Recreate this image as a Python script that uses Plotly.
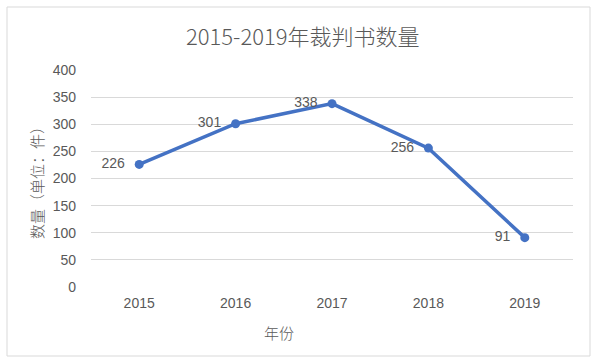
import plotly.graph_objects as go

years = ["2015", "2016", "2017", "2018", "2019"]
counts = [226, 301, 338, 256, 91]
y_ticks = [0, 50, 100, 150, 200, 250, 300, 350, 400]

FONT = "Liberation Sans, Noto Sans CJK SC"
CJK = "Noto Sans CJK SC"
GRAY = "#595959"

fig = go.Figure()
fig.add_trace(go.Scatter(
    x=years, y=counts, mode="lines+markers+text",
    text=[str(v) + "  " for v in counts], textposition="middle left",
    textfont=dict(family=FONT, size=14, color=GRAY),
    line=dict(color="#4472C4", width=3.5),
    marker=dict(color="#4472C4", size=9),
    cliponaxis=False, showlegend=False,
))

L, R, T, B = 91, 573, 70, 287
W, H = 607, 363
pw, ph = R - L, B - T

def px(x):
    return (x - L) / pw

def py(y):
    return (B - y) / ph

fig.add_shape(type="rect", xref="paper", yref="paper",
              x0=px(7), x1=px(590), y0=py(356), y1=py(7),
              line=dict(color="#D9D9D9", width=1), fillcolor="rgba(0,0,0,0)", layer="below")

fig.add_annotation(text="2015-2019年裁判书数量", xref="paper", yref="paper",
                   x=px(303), y=py(35), showarrow=False,
                   xanchor="center", yanchor="middle",
                   font=dict(family=CJK, size=22, color=GRAY, weight=300))
fig.add_annotation(text="年份", xref="paper", yref="paper",
                   x=px(279), y=py(332), showarrow=False,
                   xanchor="center", yanchor="middle",
                   font=dict(family=CJK, size=15, color=GRAY, weight=300))
fig.add_annotation(text="数量（单位：件）", xref="paper", yref="paper",
                   x=px(36), y=py(179), showarrow=False, textangle=-90,
                   xanchor="center", yanchor="middle",
                   font=dict(family=CJK, size=15, color=GRAY, weight=300))

fig.update_layout(
    width=W, height=H,
    margin=dict(l=L, r=W - R, t=T, b=H - B),
    paper_bgcolor="white", plot_bgcolor="white",
    font=dict(family=FONT, color=GRAY, size=14),
    xaxis=dict(type="category", range=[-0.5, 4.5], showgrid=False,
               showline=False, zeroline=False, ticks="",
               tickfont=dict(family=FONT, size=14, color=GRAY),
               ticklabelstandoff=6),
    yaxis=dict(range=[0, 400], tickvals=y_ticks, showgrid=True,
               gridcolor="#D9D9D9", gridwidth=1, zeroline=False,
               showline=False, ticks="",
               tickfont=dict(family=FONT, size=14, color=GRAY),
               ticklabelstandoff=14),
)

fig.write_html("out.html", config={"displayModeBar": False},
               post_script="document.body.style.margin='0';")
